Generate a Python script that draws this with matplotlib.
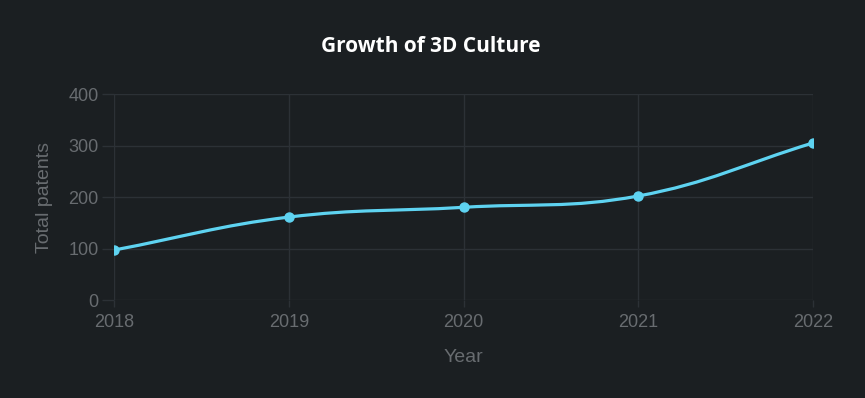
import numpy as np
import matplotlib
matplotlib.use("Agg")
import matplotlib.pyplot as plt
from matplotlib.path import Path
from matplotlib.patches import PathPatch

# data
years = [2018, 2019, 2020, 2021, 2022]
patents = [97, 161, 180, 202, 305]
y_ticks = [0, 100, 200, 300, 400]

bg = "#1b1f22"
grid_c = "#2c3136"
text_c = "#686c70"
line_c = "#5ed3f1"

plt.rcParams['font.family'] = ['Liberation Sans', 'DejaVu Sans']

fig = plt.figure(figsize=(8.65, 3.98), dpi=100, facecolor=bg)
ax = fig.add_axes([0.1318, 0.2462, 0.8081, 0.5176])
ax.set_facecolor(bg)
ax.set_xlim(years[0], years[-1])
ax.set_ylim(y_ticks[0], y_ticks[-1])

# smooth line like chart.js (tension 0.4), control points in pixel space
tension = 0.4
pts = ax.transData.transform(np.column_stack([years, patents]).astype(float))
n = len(pts)
cp_prev, cp_next = [], []
for i in range(n):
    prev = pts[i - 1] if i > 0 else pts[i]
    cur = pts[i]
    nxt = pts[i + 1] if i < n - 1 else pts[i]
    d01 = np.hypot(*(cur - prev))
    d12 = np.hypot(*(nxt - cur))
    tot = d01 + d12
    s01 = d01 / tot if tot else 0
    s12 = d12 / tot if tot else 0
    fa, fb = tension * s01, tension * s12
    cp_prev.append(cur - fa * (nxt - prev))
    cp_next.append(cur + fb * (nxt - prev))

verts = [pts[0]]
codes = [Path.MOVETO]
for i in range(n - 1):
    verts += [cp_next[i], cp_prev[i + 1], pts[i + 1]]
    codes += [Path.CURVE4] * 3
verts = ax.transData.inverted().transform(np.array(verts))
ax.add_patch(PathPatch(Path(verts, codes), fill=False, edgecolor=line_c,
                       lw=2.3, capstyle='round', joinstyle='round', zorder=3))
ax.plot(years, patents, 'o', color=line_c, ms=6.5, zorder=4)

# axes styling
for s in ax.spines.values():
    s.set_visible(False)
ax.set_xticks(years)
ax.set_yticks(y_ticks)
ax.grid(True, color=grid_c, lw=1)
ax.set_axisbelow(True)
ax.tick_params(axis='x', colors=text_c, labelsize=13, length=5, width=1,
               color=grid_c, pad=5)
ax.tick_params(axis='y', colors=text_c, labelsize=13, length=9, width=1,
               color=grid_c, pad=2)
for lab in ax.get_xticklabels() + ax.get_yticklabels():
    lab.set_color(text_c)

ax.set_xlabel("Year", color=text_c, fontsize=14, labelpad=13)
ax.set_ylabel("Total patents", color=text_c, fontsize=14, labelpad=11)

fig.text(0.498, 0.884, "Growth of 3D Culture", color="white", fontsize=15,
         fontweight='bold', family=['Open Sans', 'DejaVu Sans'],
         ha='center', va='center')

fig.savefig("out.png", dpi=100, facecolor=bg)
